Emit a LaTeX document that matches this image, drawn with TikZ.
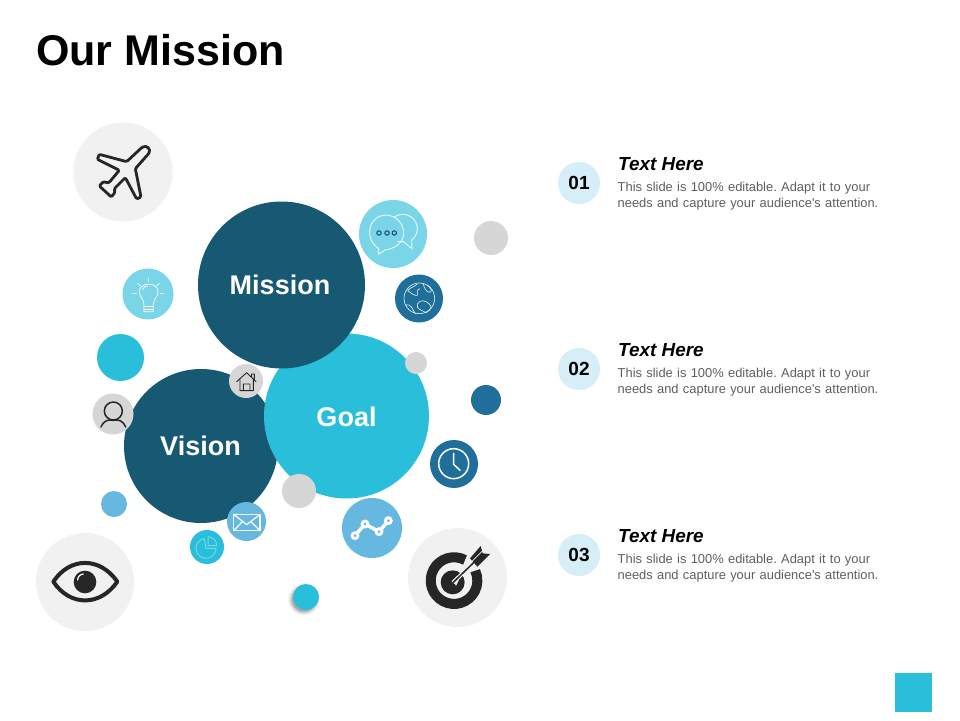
\documentclass[tikz,border=0pt]{standalone}
\usepackage{fontspec}
\setmainfont{Liberation Sans}
\newfontfamily\bodyf[WordSpace=1.2]{Liberation Sans}
\definecolor{navy}{HTML}{175873}
\definecolor{cyanb}{HTML}{29BFDB}
\definecolor{sky}{HTML}{7AD5E8}
\definecolor{mid}{HTML}{66B8E0}
\definecolor{teal}{HTML}{1F6F9A}
\definecolor{lgray}{HTML}{D6D6D6}
\definecolor{pale}{HTML}{F1F1F1}
\definecolor{numb}{HTML}{D5EEF7}
\definecolor{ink}{HTML}{262626}
\definecolor{bodyc}{HTML}{5F5F5F}
\tikzset{
  bub/.style={circle,inner sep=0pt,outer sep=0pt,minimum size=#1},
  lab/.style={text=white,font=\fontsize{27}{30}\selectfont\bfseries},
  num/.style={bub=42pt,fill=numb,text=black,font=\fontsize{19}{22}\selectfont\bfseries},
  head/.style={anchor=base west,inner sep=0pt,font=\fontsize{18.9}{22}\selectfont\bfseries\itshape},
  bodytxt/.style={anchor=north west,inner sep=0pt,align=left,text=bodyc,font=\bodyf\fontsize{12.9}{16}\selectfont\frenchspacing},
  icw/.style={draw=white,line width=1pt,line join=round,line cap=round},
  icd/.style={draw=ink,line join=round,line cap=round},
}
\newcommand{\bodycopy}{This slide is 100\% editable. Adapt it to your\\needs and capture your audience's attention.}
\begin{document}
\begin{tikzpicture}[x=1pt,y=-1pt]
\useasboundingbox (0,0) rectangle (960,720);
\fill[white] (0,0) rectangle (960,720);
\node[anchor=base west,inner sep=0pt,font=\fontsize{43}{48}\selectfont\bfseries] (title) at (36,65) {Our Mission};

% plain bubbles
\node[bub=99pt,fill=pale] (plane) at (123,172) {};
\node[bub=98pt,fill=pale] (eye) at (85,582) {};
\node[bub=99pt,fill=pale] (target) at (457.5,577.5) {};
\node[bub=154pt,fill=navy] (vision) at (201,446) {};
\node[bub=165pt,fill=cyanb] (goal) at (346.5,416) {};
\node[bub=167pt,fill=navy] (mission) at (281.5,285) {};
\node[lab] (visionl) at (200.5,446) {Vision};
\node[lab] (goall) at (346.5,416.5) {Goal};
\node[lab] (missionl) at (280,284.5) {Mission};
\node[bub=51pt,fill=sky] (bulb) at (148,294) {};
\node[bub=47pt,fill=cyanb] (dotc) at (120.5,357.5) {};
\node[bub=41pt,fill=lgray] (user) at (113,414) {};
\node[bub=26pt,fill=mid] (dotb) at (114,504) {};
\node[bub=34pt,fill=cyanb] (pie) at (207,547) {};
\node[bub=39pt,fill=mid] (mail) at (246.5,521.5) {};
\node[bub=60pt,fill=mid] (chart) at (372,528) {};
\node[bub=34pt,fill=lgray] (dotg) at (299,491) {};
\node[bub=48pt,fill=teal] (clock) at (454,464) {};
\node[bub=30pt,fill=teal] (dott) at (486,400) {};
\node[bub=22pt,fill=lgray] (dots) at (416,363) {};
\node[bub=48pt,fill=teal] (globe) at (419,298.5) {};
\node[bub=68pt,fill=sky] (chat) at (393,234) {};
\node[bub=34pt,fill=lgray] (dotr) at (491,238) {};
\node[bub=34pt,fill=lgray] (home) at (246,381) {};
% soft shadow
\foreach \r/\o in {16/.04,15/.05,14/.07,13/.10,12/.12}
  \fill[black,opacity=\o] (304,599.5) circle (\r);
\node[bub=26pt,fill=cyanb] (dotsh) at (306,597) {};

% plane
\begin{scope}[shift={(60,110)},scale=1/3]
\draw[icd,line width=2.8pt,rounded corners=1.2pt,fill=none]
 (245,113) .. controls (260,104) and (274,118) .. (265,132)
 -- (226,176) -- (243,261) -- (230,267) -- (196,203) -- (163,236) -- (165,247) -- (154,261)
 -- (118,228) -- (130,215) -- (146,219) -- (178,181) -- (112,148) -- (118,133) -- (200,155) -- cycle;
% bulb
\draw[icw,line width=.7pt] (252,605) -- (252,582) .. controls (250,565) and (238,560) .. (238,545)
 .. controls (238,515) and (294,515) .. (294,545) .. controls (294,560) and (282,565) .. (280,582) -- (280,605) -- cycle;
\draw[icw,line width=.7pt] (252,590) -- (280,590) (252,597) -- (280,597);
\draw[icw,line width=.7pt] (248,540) .. controls (248,532) and (256,528) .. (264,528);
\draw[icw,line width=.6pt] (218,550) -- (231,550) (300,550) -- (312,550) (233,520) -- (242,528) (298,520) -- (290,528) (265,505) -- (265,516);
\end{scope}

% user, home, eye, mail, pie
\begin{scope}[shift={(30,360)},scale=1/3]
\draw[icd,line width=1.5pt] (250,153) circle (27);
\draw[icd,line width=1.5pt] (213,201) .. controls (222,180) and (236,178) .. (250,181) .. controls (264,178) and (278,180) .. (287,201);
% home
\draw[icd,line width=.9pt] (620,65) -- (650,38) -- (678,65) (630,60) -- (630,92) -- (670,92) -- (670,60)
  (640,92) -- (640,72) -- (660,72) -- (660,92) (665,52) -- (665,42) -- (673,42) -- (673,58);
% eye
\draw[icd,line width=4pt] (70,665) .. controls (120,590) and (210,590) .. (262,665) .. controls (210,740) and (120,740) .. cycle;
\fill[ink] (165,666) circle (34);
\draw[white,line width=1.2pt,line cap=round] (143,660) .. controls (143,650) and (150,643) .. (160,642);
% mail
\draw[icw,line width=1.2pt] (611,463) rectangle (690,512);
\draw[icw,line width=1.2pt] (611,463) -- (650,494) -- (690,463) (611,512) -- (638,484) (690,512) -- (662,484);
% pie
\draw[draw=sky,line width=1pt,line join=round] (522.8,535.5) arc (-100:-360:30) -- (528,565) -- cycle;
\draw[draw=sky,line width=1pt,line join=round] (534,530) -- (534,557) -- (560,557) .. controls (560,542) and (550,532) .. (534,530) -- cycle;
\end{scope}

% chat, globe, dots
\begin{scope}[shift={(340,190)},scale=1/3]
\draw[icw,line width=.9pt,draw=white!85!sky] (165,80) .. controls (195,60) and (235,85) .. (232,120) .. controls (230,135) and (222,145) .. (215,150)
 -- (216,176) -- (190,155) (172,155) -- (190,155);
\draw[icw,line width=.9pt,draw=white!85!sky] (116,176) .. controls (75,150) and (80,85) .. (130,76) .. controls (175,70) and (200,115) .. (188,145) .. controls (178,170) and (150,178) .. (135,180) -- (115,193) -- cycle;
\foreach \x in {117,141,163} \draw[draw=navy,line width=1.1pt] (\x,129) circle (6.5);
% globe
\draw[draw=white!80!sky,line width=.6pt] (238,325) circle (46);
\draw[draw=white!80!sky,line width=.6pt,line join=round]
 (232,282) .. controls (222,292) and (210,292) .. (203,302) .. controls (215,310) and (222,318) .. (232,316) .. controls (236,306) and (226,300) .. (240,296)
 (250,282) .. controls (252,296) and (262,310) .. (272,306) .. controls (278,300) and (268,290) .. (262,285)
 (198,345) .. controls (210,340) and (218,355) .. (226,372)
 (232,342) .. controls (240,328) and (256,330) .. (268,342) .. controls (280,352) and (268,362) .. (258,368) .. controls (245,360) and (228,358) .. (232,342);
\end{scope}

% clock, chart, target
\begin{scope}[shift={(270,430)},scale=1/3]
\draw[icw,line width=1.5pt] (551,101) circle (45);
\draw[icw,line width=1.5pt] (551,70) -- (551,103) -- (570,121);
\draw[white,line width=3.5pt] (255,317) -- (285,282) -- (327,305) -- (355,272);
\foreach \x/\y in {255/317,285/282,327/305,355/272} { \fill[white] (\x,\y) circle (13.5); \fill[mid] (\x,\y) circle (4.5); }
% target
\draw[ink,line width=10pt] (585,390) arc (-62:-385:70);
\fill[ink] (548,457) circle (36);
\draw[pale,line width=4pt] (549,458) -- (622,387);
\fill[pale] (549,449) -- (567,449) -- (558,468) -- cycle;
\draw[ink,line width=1.5pt] (549,458) -- (622,387);
\fill[ink] (600,385) -- (632,348) -- (638,370) -- (660,372) -- (622,410) -- cycle;
\draw[pale,line width=.8pt] (605,395) -- (640,360);
\end{scope}

% right-hand column
\foreach \i/\n/\y in {a/01/183,b/02/369,c/03/555} {
  \node[num] (num\i) at (579,\y) {\n};
  \node[head] (head\i) at (618,\y-12.5) {Text Here};
  \node[bodytxt] (body\i) at (617.5,\y-1) {\bodycopy};
}
\node[fill=cyanb,inner sep=0pt,minimum width=37pt,minimum height=39pt,anchor=north west] (corner) at (895,673) {};
\end{tikzpicture}
\end{document}
